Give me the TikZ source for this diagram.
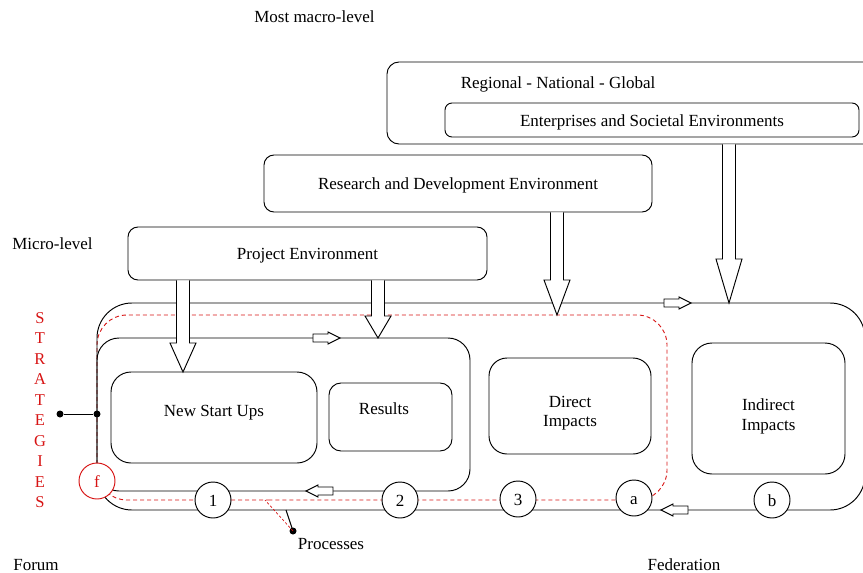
\documentclass[tikz,border=0pt]{standalone}
\usepackage{fontspec}
\setmainfont{Liberation Serif}
\usetikzlibrary{calc}
\definecolor{myred}{RGB}{215,20,20}
% big hollow arrow pointing down: #1 start, #2 tip, #3 head length
\newcommand{\blkdown}[3]{%
  \draw[blk] let \p1=(#1), \p2=(#2) in
    (\x2-6.5pt,\y1) -- (\x2-6.5pt,\y2+#3) -- (\x2-13pt,\y2+#3) -- (\x2,\y2)
    -- (\x2+13pt,\y2+#3) -- (\x2+6.5pt,\y2+#3) -- (\x2+6.5pt,\y1);}
% small hollow arrows: #1 tail x, #2 y
\newcommand{\blkr}[2]{%
  \draw[blk] (#1,#2-4) -- (#1+15,#2-4) -- (#1+15,#2-6) -- (#1+27,#2)
    -- (#1+15,#2+6) -- (#1+15,#2+4) -- (#1,#2+4) -- cycle;}
\newcommand{\blkl}[2]{%
  \draw[blk] (#1,#2-4) -- (#1-15,#2-4) -- (#1-15,#2-6) -- (#1-27,#2)
    -- (#1-15,#2+6) -- (#1-15,#2+4) -- (#1,#2+4) -- cycle;}
\begin{document}
\begin{tikzpicture}[x=1pt,y=-1pt, line width=0.95pt,
  every node/.style={font=\fontsize{17}{19.5}\selectfont},
  txt/.style={text height=16.5pt, text depth=4pt},
  box/.style={draw, fill=white, inner sep=0pt, rounded corners=#1},
  box/.default=10pt,
  circ/.style={draw, fill=white, circle, minimum size=36pt, inner sep=0pt, txt},
  blk/.style={draw, fill=white, line join=miter},
  dot/.style={circle, fill=black, minimum size=7pt, inner sep=0pt},
  reddash/.style={draw=myred, line width=0.9pt, dash pattern=on 4pt off 3pt}]
\useasboundingbox (0,0) rectangle (863,573);
\clip (0,0) rectangle (863,573);

% loops
\draw[reddash, rounded corners=30pt] (300,500) -- (97,500) -- (97,315) -- (667,315) -- (667,500) -- cycle;
\draw[rounded corners=35pt] (300,510) -- (97,510) -- (97,303) -- (865,303) -- (865,510) -- cycle;
\draw[rounded corners=22pt] (300,491) -- (97,491) -- (97,338) -- (470,338) -- (470,491) -- cycle;

% plain labels
\node[txt] (macro) at (314.5,16) {Most macro-level};
\node[txt] (micro) at (52.5,243) {Micro-level};
\node[txt] (forum) at (36,564) {Forum};
\node[txt] (fed) at (684,564) {Federation};
\node[text=myred, align=center, font=\fontsize{16.5}{20.5}\selectfont] (strat) at (40,410)
  {S\\T\\R\\A\\T\\E\\G\\I\\E\\S};

% environment boxes
\node[box=12pt, minimum width=490pt, minimum height=82pt] (reg) at (632,103) {};
\node[txt] (regt) at (558,82) {Regional - National - Global};
\node[box=7pt, txt, minimum width=414pt, minimum height=34pt] (ent) at (652,120) {Enterprises and Societal Environments};
\node[box=10pt, txt, minimum width=388pt, minimum height=57pt] (rd) at (458,183.5) {Research and Development Environment};
\node[box=10pt, txt, minimum width=359pt, minimum height=53pt] (pe) at (307.5,253.5) {Project Environment};

% inner boxes
\node[box=20pt, minimum width=206pt, minimum height=91pt,
  label={[txt,yshift=7.5pt]center:New Start Ups}] (nsu) at (214,417.5) {};
\node[box=12pt, minimum width=123pt, minimum height=68pt,
  label={[txt,xshift=-6.5pt,yshift=9pt]center:Results}] (res) at (390.5,417) {};
\node[box=18pt, minimum width=162pt, minimum height=96pt,
  label={[align=center,yshift=-7pt]center:Direct\\Impacts}] (dir) at (570,406) {};
\node[box=20pt, minimum width=153pt, minimum height=131pt,
  label={[align=center,yshift=-8pt]center:Indirect\\Impacts}] (ind) at (768.5,408.5) {};

% big arrows
\coordinate (t1) at (183,372);
\coordinate (t2) at (378,338);
\coordinate (t3) at (557,315);
\coordinate (t4) at (729,303);
\blkdown{pe.south -| t1}{t1}{29pt}
\blkdown{pe.south -| t2}{t2}{22pt}
\blkdown{rd.south -| t3}{t3}{35pt}
\blkdown{reg.south -| t4}{t4}{44pt}

% small direction arrows
\blkr{313}{338}
\blkr{664}{303}
\blkl{333}{491}
\blkl{688}{510}

% circles
\node[circ, draw=myred, text=myred] (f) at (97,481) {f};
\node[circ] (n1) at (213,500) {1};
\node[circ] (n2) at (400,500) {2};
\node[circ] (n3) at (518,499) {3};
\node[circ] (na) at (634,498) {a};
\node[circ] (nb) at (772,500) {b};

% strategies connector
\node[dot] (sd1) at (60,414) {};
\node[dot] (sd2) at (97,414) {};
\draw (sd1) -- (sd2);

% processes
\node[dot] (pd) at (293,531) {};
\coordinate (pb) at (286,510);
\coordinate (pr) at (265,500);
\draw (pd.center) -- (pb);
\draw[reddash, line width=0.7pt, dash pattern=on 2.5pt off 2pt] (pd.center) -- (pr);
\node[txt] (proc) at (331,543) {Processes};
\end{tikzpicture}
\end{document}
